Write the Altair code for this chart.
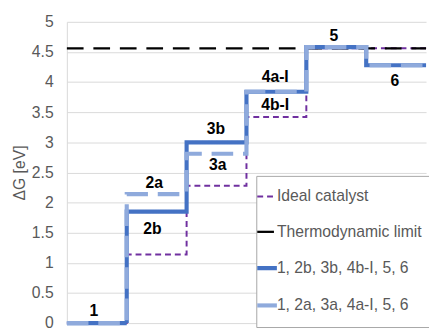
import altair as alt
import pandas as pd

# ---- data ----
steps = [0, 1, 2, 3, 4, 5]
series_names = ["Ideal catalyst", "Thermodynamic limit",
                "1, 2b, 3b, 4b-I, 5, 6", "1, 2a, 3a, 4a-I, 5, 6"]
ideal = [0, 1.14, 2.28, 3.42, 4.56, 4.56]
limit = [4.56, 4.56, 4.56, 4.56, 4.56, 4.56]
path_b = [0, 1.85, 3.00, 3.84, 4.58, 4.28]
path_a = [0, 2.14, 2.81, 3.84, 4.58, 4.28]
y_ticks = [0, 0.5, 1, 1.5, 2, 2.5, 3, 3.5, 4, 4.5, 5]

label_text = ["1", "2a", "2b", "3b", "3a", "4a-I", "4b-I", "5", "6"]
label_x = [0.45, 1.46, 1.43, 2.49, 2.52, 3.48, 3.48, 4.46, 5.48]
label_y = [0.20, 2.33, 1.56, 3.22, 2.62, 4.09, 3.62, 4.77, 4.02]

colors = ["#7030A0", "#000000", "#4472C4", "#8FAADC"]
dashes = [[6, 4], [17, 10], [1, 0], [22, 10]]
widths = [2, 2.3, 4.2, 4.2]

rows = []
for name, vals in zip(series_names, [ideal, limit, path_b, path_a]):
    for s, v in zip(steps, vals):
        rows.append({"series": name, "x": s, "y": v})
    rows.append({"series": name, "x": steps[-1] + 1, "y": vals[-1]})
df = pd.DataFrame(rows)
labels = pd.DataFrame({"text": label_text, "x": label_x, "y": label_y})

FONT = "Liberation Sans"
GRAY = "#595959"

xenc = alt.X("x:Q", scale=alt.Scale(domain=[0, 6], nice=False, zero=False), axis=None)
yenc = alt.Y("y:Q", scale=alt.Scale(domain=[0, 5], nice=False),
             axis=alt.Axis(values=y_ticks,
                           format="~g", labelOverlap=False,
                           title="ΔG [eV]", ticks=False, labelPadding=14,
                           labelFontSize=16, labelColor=GRAY, labelFont=FONT,
                           titleFontSize=16, titleColor=GRAY, titleFont=FONT,
                           titleFontWeight="normal", titlePadding=4,
                           domainColor="#D9D9D9", gridColor="#D9D9D9"))

width_expr = " : ".join(
    f"datum.label === '{n}' ? {w}" for n, w in zip(series_names, widths)) + " : 2"

leg = alt.Legend(title=None, orient="none", legendX=193, legendY=157,
                 symbolType="stroke", symbolSize=400, labelFontSize=16,
                 labelColor=GRAY, labelFont=FONT, labelLimit=400,
                 rowPadding=20, padding=13, symbolOffset=-10, labelOffset=2,
                 strokeColor="#A6A6A6", fillColor="white",
                 symbolStrokeWidth=alt.ExprRef(width_expr))

layers = []
for name, w in zip(series_names, widths):
    layers.append(
        alt.Chart(df).transform_filter(alt.datum.series == name)
        .mark_line(interpolate="step-after", strokeCap="butt", strokeWidth=w)
        .encode(
            x=xenc, y=yenc,
            color=alt.Color("series:N", scale=alt.Scale(domain=series_names, range=colors), legend=leg),
            strokeDash=alt.StrokeDash("series:N", scale=alt.Scale(domain=series_names, range=dashes), legend=leg),
        )
    )

text = alt.Chart(labels).mark_text(fontWeight="bold", fontSize=16, font=FONT, color="black").encode(
    x=xenc, y=yenc, text="text:N")

chart = alt.layer(*layers, text).properties(
    width=366, height=307,
    autosize=alt.AutoSizeParams(type="none"),
    padding={"left": 60, "top": 11, "right": 3, "bottom": 7},
).configure_view(stroke=None)

chart.save("out.html", embed_options={"renderer": "svg", "actions": False})
